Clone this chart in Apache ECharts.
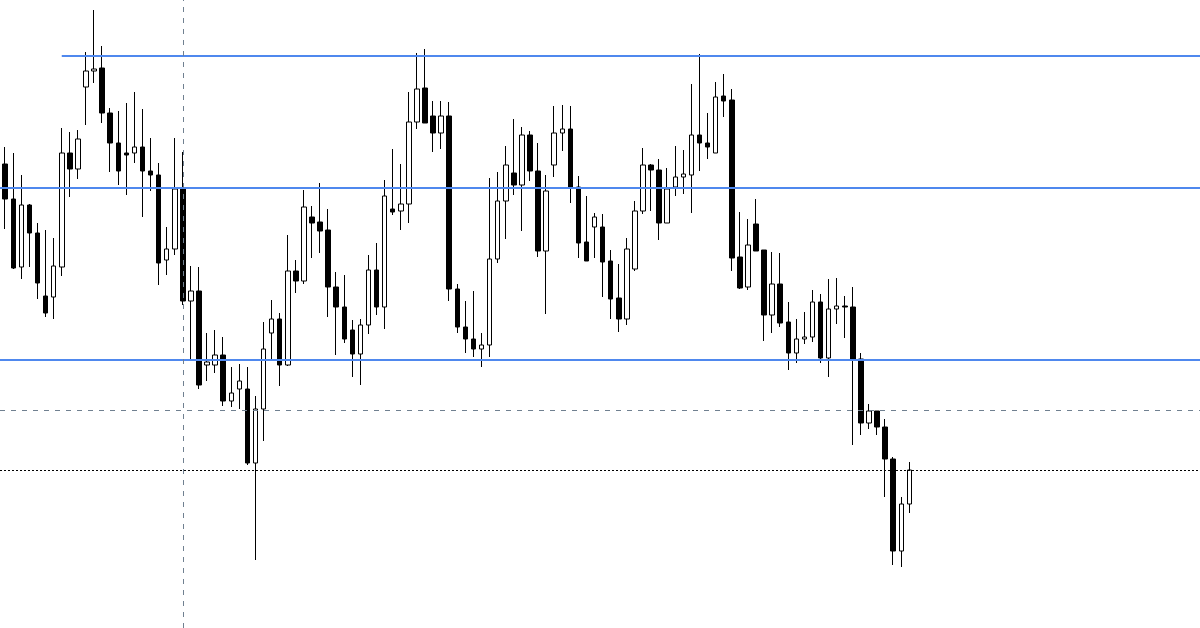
<!DOCTYPE html>
<html>
<head>
<meta charset="utf-8">
<script src="https://cdn.jsdelivr.net/npm/echarts@6/dist/echarts.min.js"></script>
<style>
html,body{margin:0;padding:0;background:#fff;}
#chart{width:1200px;height:628px;}
</style>
</head>
<body>
<div id="chart"></div>
<script>
// OHLC values (arbitrary price units)
const opens = [464,429,361,423,395,332,331,361,475,459,541,557,560,515,485,475,475,481,457,453,
368,379,439,327,337,263,263,273,227,239,239,165,219,295,309,263,357,347,411,406,
398,341,321,298,274,303,358,321,419,417,424,506,540,512,495,512,339,301,289,279,
283,369,427,455,443,493,457,377,463,495,499,441,386,401,401,367,330,309,359,417,
463,458,405,441,451,453,493,485,475,532,528,371,341,404,378,313,344,306,275,289,
291,326,270,319,322,321,269,205,217,201,169,77,124];
const closes = [429,360,423,395,345,315,362,475,459,489,557,559,515,485,457,473,481,457,453,365,
379,439,327,337,243,266,273,227,235,247,165,219,279,309,263,357,347,421,405,397,
341,321,289,274,303,358,321,432,416,424,506,539,505,495,512,339,301,289,279,283,
369,427,463,443,493,457,377,437,495,499,441,385,367,411,366,329,309,379,417,463,
458,405,439,451,454,493,485,481,531,527,370,340,383,377,313,344,305,275,289,291,
326,270,319,322,321,269,205,217,201,169,77,124,158];
const lows = [399,359,349,361,329,311,309,352,431,449,503,545,505,456,443,433,465,411,437,343,
353,373,323,269,239,247,255,222,221,219,163,68,187,269,242,262,335,344,370,375,
311,273,285,251,243,294,313,299,413,398,405,499,505,476,479,327,295,275,271,261,
271,365,389,433,397,447,371,314,451,477,425,370,367,370,331,309,296,303,357,414,
417,388,405,432,434,415,457,469,475,511,357,339,338,377,287,295,301,258,265,284,
286,265,251,304,290,183,193,199,193,131,63,61,115];
const highs = [481,475,453,424,405,398,390,500,496,498,576,618,582,520,517,525,536,519,490,465,
401,490,476,362,361,295,298,291,261,264,261,232,306,328,315,393,368,438,422,445,
419,356,353,308,309,373,385,448,479,464,536,575,579,527,527,526,344,327,337,295,
450,456,482,509,501,497,485,453,522,523,522,452,432,415,414,378,364,390,427,480,
464,469,460,482,478,544,574,515,546,554,539,416,409,429,378,376,375,326,309,316,
338,334,349,350,332,341,275,224,217,209,171,131,166];

// Horizontal level lines (price units)
const resistanceLevel = 572;   // trend line drawn from bar 7 to the right edge
const middleLevel = 440;
const supportLevel = 268;
const dashedLevel = 218;
const dottedLevel = 158;
const verticalMarkerBar = 22;
const resistanceStartBar = 7;

// visible bar-index range of the window (empty space to the right)
const xMin = -0.65;
const xMax = 148;

const ohlc = opens.map((o, i) => [i, o, closes[i], lows[i], highs[i]]);

const chart = echarts.init(document.getElementById('chart'), null, {renderer: 'canvas'});
const blue = '#4f88ee';
chart.setOption({
  animation: false,
  backgroundColor: '#ffffff',
  grid: {left: 0, top: 0, right: 0, bottom: 0, containLabel: false},
  xAxis: {
    type: 'value', min: xMin, max: xMax,
    axisLine: {show: false}, axisTick: {show: false}, axisLabel: {show: false}, splitLine: {show: false}
  },
  yAxis: {
    type: 'value', min: 0, max: 628,
    axisLine: {show: false}, axisTick: {show: false}, axisLabel: {show: false}, splitLine: {show: false}
  },
  series: [{
    type: 'candlestick',
    data: ohlc,
    encode: {x: 0, y: [1, 2, 3, 4]},
    barWidth: 5,
    itemStyle: {
      color: '#ffffff', color0: '#000000',
      borderColor: '#000000', borderColor0: '#000000', borderWidth: 1
    },
    markLine: {
      silent: true, symbol: ['none', 'none'], label: {show: false},
      data: [
        [{coord: [resistanceStartBar, resistanceLevel], lineStyle: {color: blue, width: 2, type: 'solid'}},
         {coord: [xMax, resistanceLevel]}],
        {yAxis: middleLevel, lineStyle: {color: blue, width: 2, type: 'solid'}},
        {yAxis: supportLevel, lineStyle: {color: blue, width: 2, type: 'solid'}},
        {yAxis: dashedLevel, lineStyle: {color: '#708090', width: 1, type: [5, 6]}},
        {yAxis: dottedLevel, lineStyle: {color: '#000000', width: 1, type: [2, 2]}},
        {xAxis: verticalMarkerBar, lineStyle: {color: '#708090', width: 1, type: [5, 6]}}
      ]
    }
  }]
});
</script>
</body>
</html>
